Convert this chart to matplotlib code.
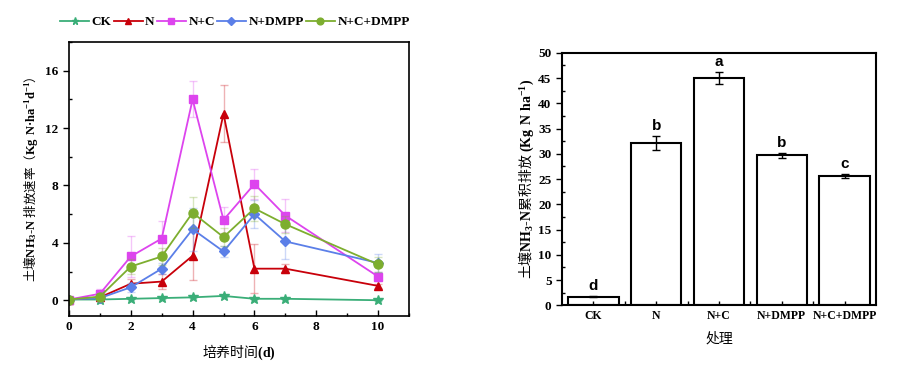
import numpy as np
import matplotlib
matplotlib.use('Agg')
import matplotlib.pyplot as plt
from matplotlib.ticker import MultipleLocator

plt.rcParams['font.family'] = ['Liberation Serif', 'Noto Sans CJK SC']
plt.rcParams['mathtext.fontset'] = 'custom'
plt.rcParams['mathtext.rm'] = 'Liberation Serif:bold'
plt.rcParams['mathtext.bf'] = 'Liberation Serif:bold'
plt.rcParams['mathtext.default'] = 'rm'

# daily emission rate data
days = [0, 1, 2, 3, 4, 5, 6, 7, 10]
ck = [0.05, 0.05, 0.1, 0.15, 0.2, 0.3, 0.1, 0.1, 0.0]
ck_err = [0.02, 0.02, 0.03, 0.03, 0.04, 0.05, 0.03, 0.03, 0.02]
n = [0.05, 0.2, 1.15, 1.3, 3.1, 13.0, 2.2, 2.2, 1.0]
n_err = [0.05, 0.1, 0.3, 0.55, 1.7, 2.0, 1.7, 0.3, 0.15]
nc = [0.05, 0.45, 3.05, 4.3, 14.0, 5.6, 8.1, 5.9, 1.65]
nc_err = [0.05, 0.35, 1.45, 1.2, 1.25, 0.9, 1.05, 1.15, 0.3]
nd = [0.05, 0.15, 0.9, 2.2, 4.95, 3.4, 6.0, 4.1, 2.6]
nd_err = [0.05, 0.1, 0.3, 0.4, 1.5, 0.4, 1.0, 1.2, 0.6]
ncd = [0.05, 0.25, 2.35, 3.05, 6.1, 4.4, 6.4, 5.3, 2.5]
ncd_err = [0.05, 0.15, 0.5, 0.6, 1.1, 0.6, 0.9, 0.6, 0.5]

# cumulative emission data
treatments = ['CK', 'N', 'N+C', 'N+DMPP', 'N+C+DMPP']
cum = [1.7, 32.2, 45.0, 29.7, 25.6]
cum_err = [0.15, 1.4, 1.1, 0.5, 0.4]
letters = ['d', 'b', 'a', 'b', 'c']

series = [
    ('CK', ck, ck_err, '#3AAE78', '*', 7),
    ('N', n, n_err, '#C8000A', '^', 6),
    ('N+C', nc, nc_err, '#DD44EE', 's', 6),
    ('N+DMPP', nd, nd_err, '#5B7FE8', 'D', 5.5),
    ('N+C+DMPP', ncd, ncd_err, '#7DAE2F', 'o', 6.5),
]

cjk = 'Noto Sans CJK SC'

fig = plt.figure(figsize=(9.04, 3.69), dpi=100)

# left panel
ax1 = fig.add_axes([0.0763, 0.1436, 0.3761, 0.7426])
handles = []
for name, y, e, c, m, ms in series:
    ax1.errorbar(days, y, yerr=e, fmt='none', ecolor=c, alpha=0.3,
                 elinewidth=1, capsize=3, capthick=1)
    h, = ax1.plot(days, y, color=c, marker=m, markersize=ms, linewidth=1.3,
                  label=name)
    handles.append(h)

ax1.set_xlim(0, 11)
ax1.set_ylim(-1.1, 18)
ax1.xaxis.set_major_locator(MultipleLocator(2))
ax1.xaxis.set_minor_locator(MultipleLocator(1))
ax1.yaxis.set_minor_locator(MultipleLocator(2))
ax1.set_yticks([0, 4, 8, 12, 16])
ax1.tick_params(axis='x', which='both', direction='in')
ax1.tick_params(axis='y', which='major', direction='out')
ax1.tick_params(axis='y', which='minor', direction='in')
ax1.tick_params(which='major', length=4, width=1)
ax1.tick_params(which='minor', length=2.5, width=1)
for lab in ax1.get_xticklabels() + ax1.get_yticklabels():
    lab.set_fontweight('bold')
    lab.set_fontsize(9.5)
for s in ax1.spines.values():
    s.set_linewidth(1.2)
ax1.set_xlabel('培养时间$(d)$', fontsize=10, family=cjk, labelpad=7)
ax1.set_ylabel('土壤$NH_3‐N$ 排放速率（$Kg\\ N·ha^{-1}d^{-1}$）',
               fontsize=9, family=cjk, labelpad=4)

fig.legend(handles=handles, loc='center', bbox_to_anchor=(0.26, 0.94), ncol=5,
           frameon=False, handlelength=2.2, columnspacing=0.15, handletextpad=0.2,
           prop={'family': 'Liberation Serif', 'weight': 'bold', 'size': 9.5},
           markerscale=0.75)

# right panel
ax2 = fig.add_axes([0.6217, 0.1726, 0.3473, 0.6844])
x = np.arange(len(treatments))
ax2.bar(x, cum, width=0.8, color='white', edgecolor='black', linewidth=1.5)
ax2.errorbar(x, cum, yerr=cum_err, fmt='none', ecolor='black',
             elinewidth=1, capsize=3, capthick=1)
for i in range(len(treatments)):
    ax2.text(x[i], cum[i] + cum_err[i] + 0.6, letters[i], ha='center',
             va='bottom', fontsize=11, fontweight='bold',
             family='Liberation Sans')
ax2.set_xlim(-0.5, 4.5)
ax2.set_ylim(0, 50)
ax2.set_xticks(x)
ax2.set_xticklabels(treatments)
ax2.set_xticks(x[:-1] + 0.5, minor=True)
ax2.yaxis.set_major_locator(MultipleLocator(5))
ax2.yaxis.set_minor_locator(MultipleLocator(2.5))
ax2.tick_params(axis='x', which='both', direction='in', length=3, width=1)
ax2.tick_params(axis='y', which='major', direction='out', length=4, width=1)
ax2.tick_params(axis='y', which='minor', direction='in', length=2.5, width=1)
for lab in ax2.get_xticklabels():
    lab.set_fontweight('bold')
    lab.set_fontsize(8.5)
for lab in ax2.get_yticklabels():
    lab.set_fontweight('bold')
    lab.set_fontsize(9.5)
for s in ax2.spines.values():
    s.set_linewidth(1.5)
ax2.set_xlabel('处理', fontsize=10, family=cjk, labelpad=7)
ax2.set_ylabel('土壤$NH_3‐N$累积排放 $(Kg\\ N\\ ha^{-1})$', fontsize=10,
               family=cjk, labelpad=2)

fig.savefig('out.png', dpi=100)
